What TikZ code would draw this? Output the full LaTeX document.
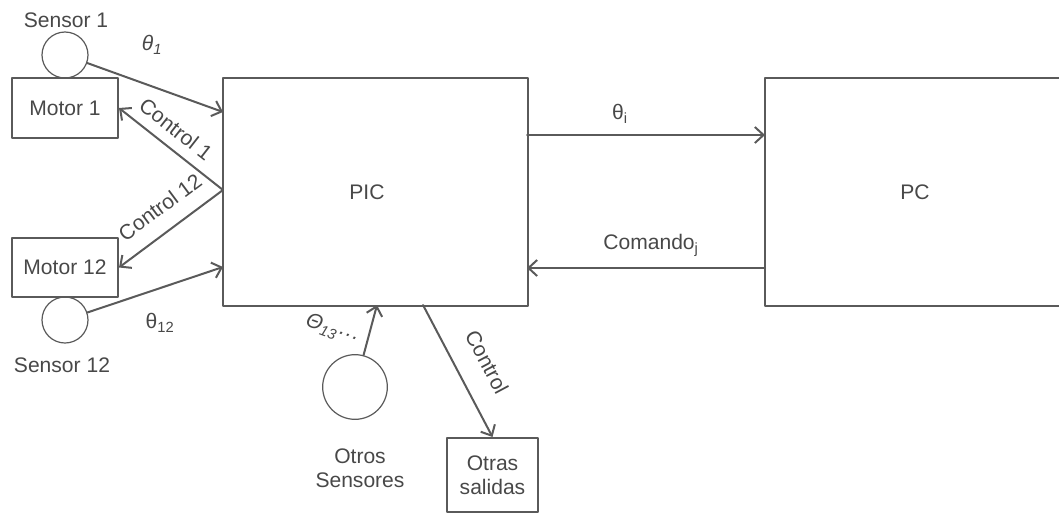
\documentclass[tikz,border=0pt]{standalone}
\usepackage{fontspec}
\setmainfont{Liberation Sans}
\usetikzlibrary{arrows.meta}
\definecolor{linegray}{HTML}{5A5A5A}
\definecolor{textgray}{HTML}{484848}
\tikzset{
  every picture/.style={line join=round, line cap=round},
}
\begin{document}
\begin{tikzpicture}[x=0.75pt,y=-0.75pt,line width=1.5pt,draw=linegray,
  font=\fontsize{15.8}{18}\selectfont,text=textgray,
  ->,>={Straight Barb[length=6.5pt,width=12pt]},
  blk/.style={draw=linegray,rectangle,inner sep=0pt},
  sens/.style={draw=linegray,circle,line width=0.9pt,inner sep=0pt},
  lbl/.style={inner sep=1pt}]
\useasboundingbox (0,0) rectangle (1059,514);
% bloques
\node[blk,minimum width=79.5pt,minimum height=45pt] (motor1) at (65,108) {Motor 1};
\node[blk,minimum width=79.5pt,minimum height=44pt] (motor12) at (65,267.5) {Motor 12};
\node[blk,minimum width=228.75pt,minimum height=171pt] (pic) at (375,192) {};
\node[blk,minimum width=225pt,minimum height=171pt] (pc) at (915,192) {};
\node[blk,minimum width=68pt,minimum height=55.5pt,align=center] (salidas) at (492.5,475) {Otras\\salidas};
\node at (367,192) (piclbl) {PIC};
\node at (915,192) (pclbl) {PC};
% sensores
\node[sens,minimum size=34.5pt] (sens1) at (65,55) {};
\node[sens,minimum size=34.5pt] (sens12) at (65,320) {};
\node[sens,minimum size=48.5pt] (otros) at (355,387) {};
\node at (66,20) (sens1lbl) {Sensor 1};
\node at (62,365) (sens12lbl) {Sensor 12};
\node[align=center] at (360,468) (otroslbl) {Otros\\Sensores};
% puntos en los bordes
\coordinate (in1) at (223,112);
\coordinate (ctl) at (223,190);
\coordinate (in12) at (223,267);
\coordinate (picout) at (527,135);
\coordinate (pcin) at (765,135);
\coordinate (pcout) at (765,268);
\coordinate (picin) at (527,268);
\coordinate (inotros) at (377,305);
\coordinate (ctlout) at (423,305);
% conexiones
\draw (sens1) -- (in1);
\draw (ctl) -- (motor1.east);
\draw (ctl) -- (motor12.east);
\draw (sens12) -- (in12);
\draw (picout) -- (pcin);
\draw (pcout) -- (picin);
\draw (otros) -- (inotros);
\draw (ctlout) -- (salidas.north);
% etiquetas
\node[lbl] at (152,45) (t1) {\textit{θ\textsubscript{1}}};
\node[lbl,rotate=-38] at (176,129) (c1) {Control 1};
\node[lbl,rotate=36.6] at (160,207) (c12) {Control 12};
\node[lbl] at (160,323) (t12) {θ\textsubscript{12}};
\node[lbl] at (620,114) (ti) {θ\textsubscript{i}};
\node[lbl] at (651,245) (cmd) {Comando\textsubscript{j}};
\node[lbl,rotate=-20] at (332,330) (t13) {\textit{Θ\textsubscript{13}···}};
\node[lbl,rotate=-62] at (487,362) (cout) {Control};
\end{tikzpicture}
\end{document}
